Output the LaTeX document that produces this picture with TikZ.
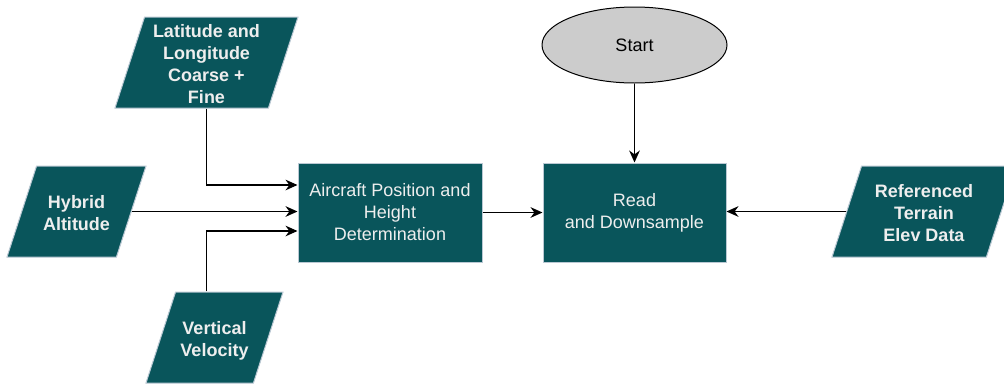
\documentclass[tikz,border=0pt]{standalone}
\usepackage{fontspec}
\setmainfont{Liberation Sans}
\usetikzlibrary{shapes.geometric,arrows.meta,calc}
\definecolor{deepteal}{HTML}{09555B}
\definecolor{paleblue}{HTML}{BAC8D3}
\definecolor{snow}{HTML}{EEEEEE}
\definecolor{startgray}{HTML}{CCCCCC}
% fixed height text block, so every input shape gets the same slant
\newcommand{\fixedtext}[1]{\vbox to 60pt{\vss\kern5.4pt\hbox{\begin{tabular}{@{}c@{}}#1\end{tabular}}\vss}}

\begin{document}
\begin{tikzpicture}[x=0.75pt, y=-0.75pt,
    datain/.style={trapezium, trapezium left angle=72, trapezium right angle=108,
        trapezium stretches body, minimum height=68.25pt, inner xsep=1pt, inner ysep=4.125pt,
        fill=deepteal, draw=paleblue, line width=0.75pt, text=snow,
        font=\fontsize{13.5}{16.5}\selectfont\bfseries},
    procbox/.style={rectangle, minimum width=138pt, minimum height=74.25pt,
        fill=deepteal, draw=paleblue, line width=0.75pt, text=snow, align=center,
        font=\fontsize{13.5}{16.5}\selectfont},
    flow/.style={-{Stealth[length=9pt,width=8pt]}, line width=1pt}]
    \clip (0,0) rectangle (1004,383);

    % Inputs on the left
    \node[datain, minimum width=137.25pt] (latlon) at (206.5,62.5)
        {\fixedtext{Latitude and\\Longitude\\Coarse +\\Fine}};
    \node[datain, minimum width=104.25pt] (hybrid) at (76.5,211.5)
        {\fixedtext{Hybrid\\Altitude}};
    \node[datain, minimum width=102.75pt] (vvel) at (214.5,337.5)
        {\fixedtext{Vertical\\Velocity}};

    % Processing steps
    \node[procbox] (aircraft) at (390,212.5) {Aircraft Position and\\Height\\Determination};
    \node[procbox, minimum width=137.25pt] (readds) at (634.5,212.5) {Read\\and Downsample};

    % Start terminal
    \node[ellipse, minimum width=138.75pt, minimum height=57pt, inner sep=0pt,
        fill=startgray, draw=black, line width=0.75pt,
        font=\fontsize{13.5}{16.5}\selectfont] (start) at (634.5,45) {Start};

    % Terrain input on the right
    \node[datain, minimum width=138pt] (terrain) at (924,211.5)
        {\fixedtext{Referenced\\Terrain\\Elev Data}};

    % Connectors
    \draw[flow] (latlon.south) |- ($(aircraft.west)+(0,-27.5)$);
    \draw[flow] (hybrid.east) -- (hybrid.east -| aircraft.west);
    \draw[flow] (vvel.north -| latlon.south) |- ($(aircraft.west)+(0,18.5)$);
    \draw[flow] (aircraft.east) -- (readds.west);
    \draw[flow] (start) -- (readds);
    \draw[flow] (terrain.west) -- (terrain.west -| readds.east);
\end{tikzpicture}
\end{document}
